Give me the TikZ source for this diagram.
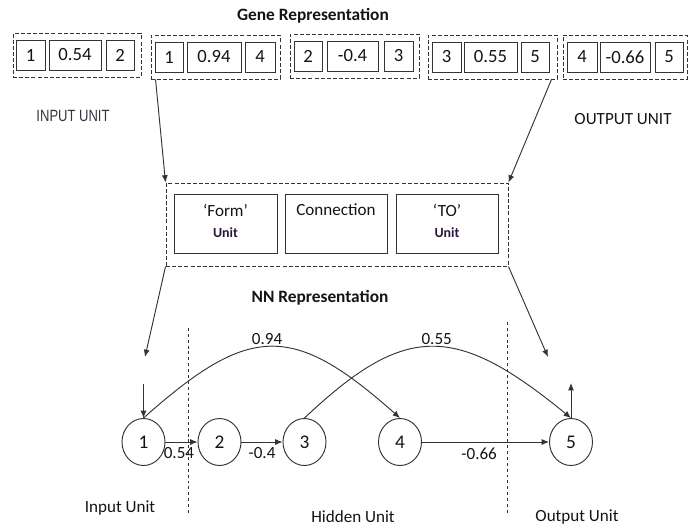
\documentclass[tikz,border=0pt]{standalone}
\usepackage{fontspec}
\setmainfont{Carlito}
\newfontfamily\arialfont{Liberation Sans}
\usetikzlibrary{arrows.meta,shapes.geometric}
\definecolor{ink}{HTML}{141414}
\definecolor{edge}{HTML}{333333}
\definecolor{unitink}{HTML}{2A1838}
\definecolor{capsink}{HTML}{343440}
\begin{document}
\begin{tikzpicture}[x=0.75pt,y=-0.75pt,
  every node/.style={text=ink},
  line/.style={draw=edge, line width=0.7pt},
  arr/.style={line, -{Latex[length=5.5pt,width=4.5pt]}},
  group/.style={draw=edge, line width=0.7pt, dash pattern=on 3pt off 1.6pt,
    inner sep=0pt, minimum height=44*0.75pt, minimum width=#1*0.75pt},
  cell/.style={draw=edge, line width=0.7pt, inner sep=0pt,
    minimum height=30*0.75pt, minimum width=#1*0.75pt,
    font=\fontsize{14}{16}\selectfont},
  unitbox/.style={draw=edge, line width=0.7pt, inner sep=0pt,
    minimum height=59*0.75pt, minimum width=#1*0.75pt},
  neuron/.style={ellipse, draw=edge, line width=0.7pt, inner sep=0pt,
    minimum width=43*0.75pt, minimum height=47*0.75pt,
    font=\fontsize{14.5}{16}\selectfont},
  title/.style={font=\fontsize{13}{15}\selectfont\bfseries},
  plain/.style={font=\fontsize{12.8}{14}\selectfont},
  weight/.style={font=\fontsize{12.8}{14}\selectfont, inner sep=1pt},
  unitword/.style={font=\fontsize{10.5}{12}\selectfont\bfseries, text=unitink},
  sep/.style={draw=edge, line width=0.7pt, dash pattern=on 2.2pt off 2.2pt},
]
\useasboundingbox (0,0) rectangle (689,526);

% ---- gene representation ----
\node[title] (gene) at (313,16) {Gene Representation};

\node[group=128] (g1) at (77,55) {};
\node[cell=29] (g1a) at (30.5,55) {1};
\node[cell=52] (g1b) at (75,55) {0.54};
\node[cell=28] (g1c) at (120,55) {2};

\node[group=129] (g2) at (215.5,57) {};
\node[cell=28] (g2a) at (169,57) {1};
\node[cell=54] (g2b) at (214,57) {0.94};
\node[cell=30] (g2c) at (260,57) {4};

\node[group=129] (g3) at (354.5,56) {};
\node[cell=28] (g3a) at (308,56) {2};
\node[cell=51] (g3b) at (352.5,56) {-0.4};
\node[cell=29] (g3c) at (398.5,56) {3};

\node[group=129] (g4) at (492.5,57) {};
\node[cell=29] (g4a) at (446.5,57) {3};
\node[cell=53] (g4b) at (490.5,57) {0.55};
\node[cell=28] (g4c) at (535,57) {5};

\node[group=124] (g5) at (625,57) {};
\node[cell=30] (g5a) at (582,57) {4};
\node[cell=50] (g5b) at (625,57) {-0.66};
\node[cell=28] (g5c) at (669,57) {5};

\node[text=capsink] (inunit) at (73,116)
  {\scalebox{0.8}[1]{\arialfont\fontsize{12.2}{14}\selectfont INPUT UNIT}};
\node[plain] (outunit) at (623,119) {OUTPUT UNIT};

% ---- connection record ----
\node[group=342, minimum height=83*0.75pt] (mid) at (337,224.5) {};
\node[unitbox=103] (from) at (225.5,223.5) {};
\node[unitbox=102] (conn) at (336,223.5) {};
\node[unitbox=102] (to) at (447,223.5) {};
\node[plain] at ([yshift=-12.75pt]from.north) {‘Form’};
\node[unitword] at ([yshift=-29.25pt]from.north) {Unit};
\node[plain] at ([yshift=-12pt]conn.north) {Connection};
\node[plain] at ([yshift=-12.75pt]to.north) {‘TO’};
\node[unitword] at ([yshift=-29.25pt]to.north) {Unit};

\draw[arr] ([xshift=3.75pt]g2.south west) -- (mid.north west);
\draw[arr] ([xshift=-4.5pt]g4.south east) -- (mid.north east);

\node[title] (nn) at (320,298) {NN Representation};

% ---- network ----
\node[neuron] (n1) at (143.5,442) {1};
\node[neuron] (n2) at (219.5,442) {2};
\node[neuron] (n3) at (304.5,442) {3};
\node[neuron] (n4) at (400,442) {4};
\node[neuron] (n5) at (571,442) {5};

\coordinate (fromEnd) at (145,357);
\coordinate (toEnd) at (548,357);
\draw[arr] (mid.south west) -- (fromEnd);
\draw[arr] (mid.south east) -- (toEnd);

\coordinate (inTop) at (143.5,384);
\coordinate (outTop) at (571,383);
\draw[arr] (inTop) -- (n1.north);
\draw[arr] (n5.north) -- (outTop);

\draw[arr] (n1) -- node[weight, below=3pt, pos=0.42] {0.54} (n2);
\draw[arr] (n2) -- node[weight, below=3pt] {-0.4} (n3);
\draw[arr] (n4) -- node[weight, below=3pt, pos=0.45] {-0.66} (n5);

\draw[arr] (n1.north) .. controls (250,323) and (293,323) .. (n4.north)
  node[weight, pos=0.48, above] {0.94};
\draw[arr] (n3.north) .. controls (405,323) and (455,323) .. (n5.north)
  node[weight, pos=0.52, above] {0.55};

% layer separators
\draw[sep] (188,328) -- (188,515);
\draw[sep] (507,322) -- (507,513);

\node[plain] (lin) at (120,508) {Input Unit};
\node[plain] (lhid) at (353,517) {Hidden Unit};
\node[plain] (lout) at (577,517) {Output Unit};
\end{tikzpicture}
\end{document}
